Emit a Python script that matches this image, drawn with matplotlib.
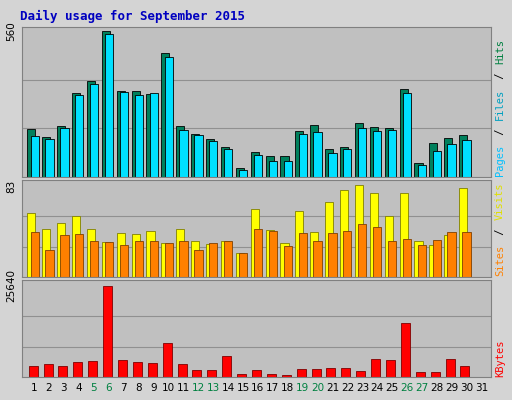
import matplotlib
matplotlib.use("Agg")
import matplotlib.pyplot as plt
import numpy as np

days = list(range(1, 32))
hits = [184, 153, 196, 322, 368, 560, 330, 330, 318, 476, 196, 165, 146, 115, 35, 96, 81, 81, 176, 199, 107, 115, 207, 192, 188, 338, 54, 130, 150, 161]
files = [157, 146, 188, 315, 357, 550, 326, 315, 322, 460, 180, 161, 138, 107, 27, 84, 61, 61, 165, 173, 92, 107, 188, 176, 180, 322, 46, 100, 127, 142]
visits = [58, 44, 49, 56, 44, 32, 40, 39, 42, 31, 44, 33, 30, 33, 22, 62, 43, 31, 60, 41, 68, 79, 84, 77, 56, 77, 33, 29, 38, 81]
sites = [41, 25, 38, 39, 33, 32, 29, 33, 33, 31, 33, 25, 31, 33, 22, 44, 42, 28, 40, 33, 40, 42, 48, 46, 33, 35, 29, 34, 41, 41]
kbytes = [3100, 3660, 3100, 4220, 4500, 25640, 4790, 4220, 3940, 9580, 3660, 1970, 1970, 5920, 850, 1970, 850, 560, 2250, 2250, 2540, 2540, 1690, 5070, 4790, 15350, 1410, 1410, 5070, 3100]
weekends = [5, 6, 12, 13, 19, 20, 26, 27]

W, H = 512, 400
fig = plt.figure(figsize=(5.12, 4.0), dpi=100)
fig.patch.set_facecolor("#d4d4d4")
fig.text(20 / W, 1 - 16 / H, "Daily usage for September 2015", color="#0000c0",
         family="DejaVu Sans Mono", weight="bold", fontsize=9, va="center")


def panel(top, bottom, maxval, height_px):
    ax = fig.add_axes([22 / W, 1 - bottom / H, 469 / W, (bottom - top) / H])
    ax.set_facecolor("#c0c0c0")
    ax.set_xlim(0.25, 31.75)
    ax.set_ylim(0, maxval * (bottom - top) / height_px)
    for f in (1 / 3, 2 / 3):
        ax.axhline(maxval * f, color="#909090", lw=0.8, zorder=0)
    ax.set_xticks([])
    ax.set_yticks([])
    ax.text(-0.012, maxval, str(maxval), transform=ax.get_yaxis_transform(), rotation=90,
            ha="right", va="center", fontsize=7.5)
    for s in ax.spines.values():
        s.set_color("#808080")
    return ax


x = np.arange(1, 31)
ax1 = panel(27, 177, 560, 146)
ax1.bar(x - 0.12, hits, 0.55, color="#00805c", edgecolor="black", lw=0.6)
ax1.bar(x + 0.1, files, 0.55, color="#00e0ff", edgecolor="black", lw=0.6)

ax2 = panel(180, 277, 83, 91)
ax2.bar(x - 0.12, visits, 0.55, color="#ffff00", edgecolor="#808000", lw=0.6)
ax2.bar(x + 0.1, sites, 0.55, color="#ff8000", edgecolor="#804000", lw=0.6)

ax3 = panel(280, 377, 25640, 91)
ax3.bar(x, kbytes, 0.6, color="#ff0000", edgecolor="#800000", lw=0.6)

for d in days:
    fig.text((26.5 + (d - 0.5) * 14.93) / W, 1 - 388 / H, str(d), ha="center", va="center",
             fontsize=7.5, color="#008040" if d in weekends else "black")


def side(ypix, parts, step=7.0):
    # stacked rotated label on the right, reading bottom to top
    y = ypix
    for txt, col in parts:
        fig.text(500 / W, 1 - y / H, txt, rotation=90, color=col, ha="center", va="bottom",
                 fontsize=7.5, family="DejaVu Sans Mono")
        y -= len(txt) * step


side(176, [("Pages", "#00c0ff"), (" / ", "black"), ("Files", "#00a0c0"), (" / ", "black"), ("Hits", "#008040")])
side(276, [("Sites", "#ff8000"), (" / ", "black"), ("Visits", "#e0e000")])
side(377, [("KBytes", "#ff0000")])

fig.savefig("out.png", dpi=100, facecolor=fig.get_facecolor())
